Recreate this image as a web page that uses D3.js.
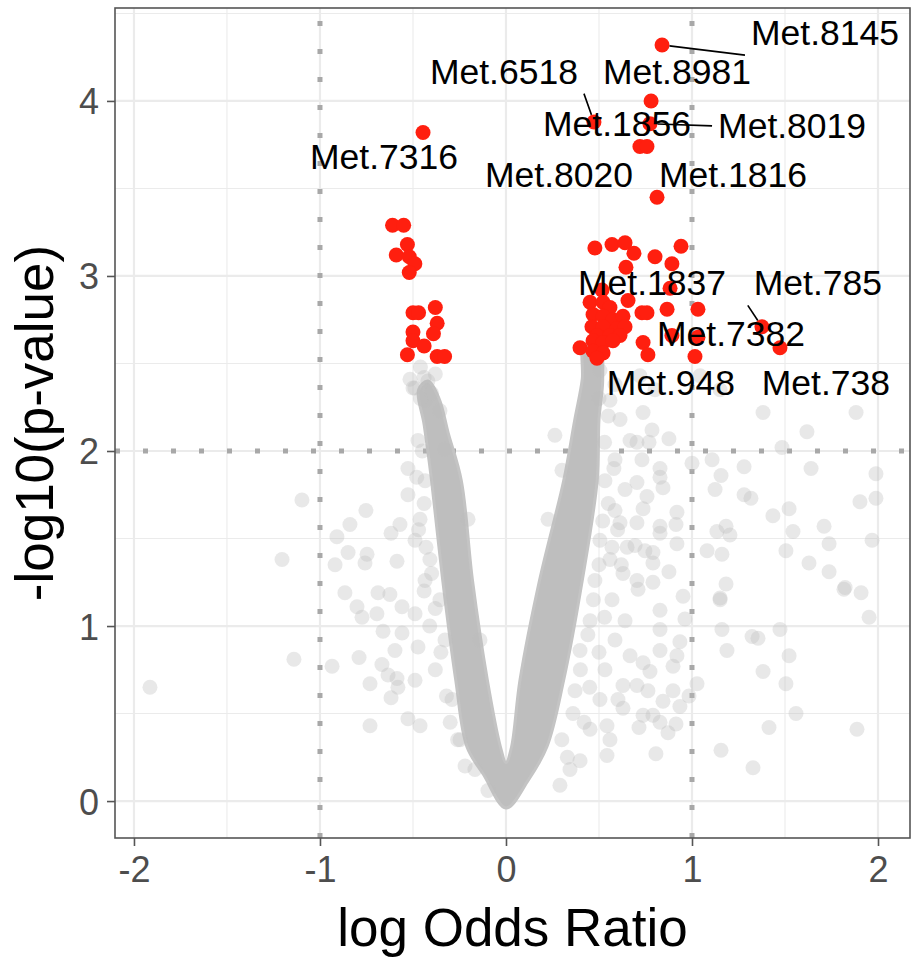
<!DOCTYPE html>
<html><head><meta charset="utf-8">
<script src="https://cdn.jsdelivr.net/npm/d3@7"></script>
<style>body{margin:0;background:#fff}</style>
</head><body>
<svg id="c" width="913" height="960"></svg>
<script>
// ---------- data ----------
const xTicks = [-2, -1, 0, 1, 2];
const yTicks = [0, 1, 2, 3, 4];
const xMinor = [-1.5, -0.5, 0.5, 1.5];
const yMinor = [0.5, 1.5, 2.5, 3.5, 4.5];
const xCutoffs = [-1, 1];
const yCutoffs = [2];

// dense core of the non-significant cloud (outline, in data units)
const coreX = [0, -0.12, -0.21, -0.27, -0.34, -0.40, -0.44, -0.47, -0.42, -0.36, -0.31, -0.24, -0.18, -0.10, -0.03, 0, 0.03, 0.075, 0.18, 0.31, 0.37, 0.41, 0.42, 0.50, 0.52, 0.50, 0.49, 0.41, 0.31, 0.22, 0.12];
const coreY = [-0.04, 0.15, 0.31, 0.69, 1.26, 1.83, 2.15, 2.35, 2.40, 2.30, 2.10, 1.83, 1.26, 0.69, 0.31, 0.22, 0.31, 0.69, 1.26, 1.83, 2.18, 2.41, 2.60, 2.62, 2.41, 2.18, 1.83, 1.26, 0.69, 0.31, 0.12];

// scattered non-significant metabolites
const greyX = [-1.097,-1.204,-0.839,-0.753,-0.909,-0.849,-0.747,-0.758,-0.919,-0.618,-0.570,-0.527,-0.527,-0.586,-0.688,-0.866,-1.140,-0.935,-1.914,-0.790,-0.731,-0.731,-0.801,-0.774,-0.694,-0.624,-0.559,-0.661,-0.597,-0.667,-0.634,-0.586,-0.581,-0.618,-0.527,-0.462,-0.489,-0.473,-0.559,-0.489,
 1.382,1.882,1.618,1.484,1.640,1.989,1.280,1.108,1.156,1.124,1.280,1.317,1.435,1.522,1.903,1.989,1.134,1.183,1.204,1.543,1.710,1.737,1.968,1.505,1.629,1.737,1.823,1.909,1.081,1.161,1.183,1.151,1.000,0.919,0.914,0.919,0.828,0.828,0.876,0.785,0.769,0.737,0.704,0.731,0.828,0.828,0.844,0.704,0.758,0.737,0.613,0.704,0.651,0.694,0.747,0.790,0.790,0.876,0.629,0.704,0.790,0.710,
 1.151,1.161,1.188,1.323,1.355,1.473,1.522,1.382,1.505,1.559,1.414,1.887,1.156,1.328,1.952,0.952,0.828,0.962,0.828,0.935,0.828,0.919,0.898,0.737,0.774,1.027,0.984,0.898,0.844,0.935,0.763,0.704,0.629,0.629,0.737,0.790,0.828,0.914,0.871,0.715,0.543,0.806,0.543,1.817,
 0.570,0.640,0.586,0.667,0.532,0.602,0.505,0.452,0.559,0.398,0.344,0.290,0.559,0.613,0.667,0.586,0.532,0.640,0.586,0.505,0.559,0.478,0.452,0.398,0.371,0.505,0.586,0.720,0.801,1.043,1.151,
 -0.435,-0.355,-0.473,-0.328,-0.435,-0.462,-0.409,-0.355,-0.328,-0.290,-0.247,-0.167,-0.097,-0.516,-0.489,-0.435,-0.204,-0.140,0.263,0.301,0.226,-0.46,-0.42,-0.50,-0.38,
 0.50,0.55,0.53,0.58,0.55,0.60,0.52,0.57,0.50,0.62,0.47,0.53,0.44,0.50,0.40,0.45,0.36,0.42,0.30,0.33,
 -0.45,-0.48,-0.44,-0.47,-0.43,-0.40,-0.44,-0.38,-0.41,-0.35,-0.38,-0.32,-0.30,-0.26,-0.22,-0.46,-0.44,-0.49,-0.40];
const greyY = [1.72,1.38,1.58,1.66,1.51,1.42,1.41,1.36,1.35,1.53,1.58,1.90,1.75,1.37,1.19,1.19,0.81,0.77,0.65,0.82,0.67,0.43,1.11,1.05,1.07,1.18,1.11,0.97,0.86,0.78,0.72,0.70,0.65,0.59,0.47,0.43,0.69,0.88,0.96,1.07,
 2.22,2.22,2.11,2.02,1.90,1.87,1.91,1.95,1.86,1.78,1.75,1.73,1.63,1.67,1.71,1.73,1.54,1.57,1.52,1.54,1.57,1.47,1.49,1.43,1.36,1.31,1.22,1.19,1.43,1.41,1.24,1.16,1.93,1.65,1.58,1.47,1.57,1.53,2.07,2.12,2.05,2.22,2.05,1.95,1.90,1.85,1.79,1.82,1.74,1.67,1.59,1.59,1.45,1.46,1.43,1.42,1.36,1.31,1.30,1.26,1.25,1.21,
 1.15,0.98,0.86,0.94,0.93,0.98,0.83,0.74,0.67,0.50,0.42,0.41,0.29,0.19,1.05,1.17,1.09,1.04,0.98,0.91,0.86,0.83,0.77,0.79,0.74,0.67,0.60,0.63,0.57,0.54,0.63,0.66,0.66,0.53,0.49,0.49,0.45,0.44,0.39,0.42,0.43,0.27,0.26,1.21,
 1.15,1.03,0.92,0.83,0.75,0.58,0.58,0.41,0.35,0.23,0.18,0.09,2.29,2.18,2.06,1.95,1.83,1.78,1.66,1.49,1.38,1.26,1.03,0.86,0.63,2.46,2.38,2.43,2.35,2.43,2.35,
 2.29,2.23,2.06,2.01,1.83,1.61,1.38,1.15,0.92,0.58,0.35,0.18,0.06,2.41,1.49,1.26,1.61,0.92,2.09,1.89,1.61,2.48,2.40,2.36,2.44,
 2.30,2.20,2.05,1.90,1.70,1.55,1.60,1.45,1.35,1.35,1.15,1.05,0.95,0.85,0.75,0.65,0.50,0.45,0.35,0.25,
 2.00,1.85,1.70,1.55,1.45,1.30,1.20,1.10,1.00,0.85,0.75,0.60,0.45,0.35,0.20,2.30,2.42,2.36,2.33];

// significant metabolites
const sigX = [0.839,0.780,0.473,0.774,0.720,0.758,-0.446,0.812,
 0.478,0.570,0.640,0.688,0.645,0.801,0.892,0.941,0.882,0.516,0.656,0.452,0.522,0.559,0.468,0.522,0.575,0.629,0.731,0.758,0.866,1.032,0.462,0.522,0.597,0.640,0.489,0.559,0.613,0.398,0.468,0.522,0.575,0.468,0.522,0.489,0.737,0.763,0.892,1.032,1.016,1.376,1.473,
 -0.61,-0.55,-0.53,-0.59,-0.52,-0.49,-0.52,-0.50,-0.47,-0.38,-0.37,-0.50,-0.39,-0.50,-0.44,-0.53,-0.37,-0.33];
const sigY = [4.32,4.00,3.88,3.87,3.74,3.74,3.82,3.45,
 3.16,3.18,3.19,3.13,3.05,3.11,3.07,3.17,2.93,2.92,2.86,2.85,2.85,2.82,2.78,2.77,2.75,2.77,2.79,2.79,2.81,2.81,2.71,2.71,2.70,2.71,2.66,2.66,2.66,2.59,2.63,2.62,2.63,2.57,2.56,2.53,2.62,2.55,2.66,2.65,2.54,2.71,2.59,
 3.29,3.29,3.18,3.12,3.11,3.07,3.02,2.79,2.79,2.82,2.73,2.68,2.67,2.63,2.60,2.55,2.54,2.54];

// labelled metabolites: point and repelled label position (data units)
const labelNames = ["Met.8145","Met.6518","Met.8981","Met.1856","Met.8019","Met.7316","Met.8020","Met.1816","Met.1837","Met.785","Met.7382","Met.948","Met.738"];
const labelPointX = [0.839,0.473,0.780,0.758,0.774,-0.446,0.720,0.812,0.656,1.376,1.032,0.763,1.473];
const labelPointY = [4.32,3.88,4.00,3.74,3.87,3.82,3.74,3.45,2.86,2.71,2.65,2.55,2.59];
const labelTextX = [1.715,-0.011,0.919,0.597,1.538,-0.656,0.285,1.220,0.785,1.677,1.210,0.887,1.720];
const labelTextY = [4.39,4.17,4.17,3.87,3.86,3.68,3.58,3.58,2.96,2.96,2.67,2.39,2.39];

// ---------- drawing ----------
const P = {left: 115, right: 910, top: 8, bottom: 838};
const x = d3.scaleLinear().domain([-2.102, 2.172]).range([P.left, P.right]);
const y = d3.scaleLinear().domain([-0.211, 4.531]).range([P.bottom, P.top]);
const FONT = "'Liberation Sans', Arial, Helvetica, sans-serif";
const svg = d3.select("#c");

svg.append("defs").append("clipPath").attr("id","pclip")
  .append("rect").attr("x",P.left).attr("y",P.top).attr("width",P.right-P.left).attr("height",P.bottom-P.top);

const panel = svg.append("g").attr("clip-path","url(#pclip)");
panel.append("rect").attr("x",P.left).attr("y",P.top).attr("width",P.right-P.left).attr("height",P.bottom-P.top).attr("fill","#fff");

// grid
const grid = panel.append("g").attr("stroke","#ebebeb").attr("fill","none");
grid.selectAll(".xm").data(xMinor).join("line").attr("x1",d=>x(d)).attr("x2",d=>x(d)).attr("y1",P.top).attr("y2",P.bottom).attr("stroke-width",1.1);
grid.selectAll(".ym").data(yMinor).join("line").attr("y1",d=>y(d)).attr("y2",d=>y(d)).attr("x1",P.left).attr("x2",P.right).attr("stroke-width",1.1);
grid.selectAll(".xM").data(xTicks).join("line").attr("x1",d=>x(d)).attr("x2",d=>x(d)).attr("y1",P.top).attr("y2",P.bottom).attr("stroke-width",2.2);
grid.selectAll(".yM").data(yTicks).join("line").attr("y1",d=>y(d)).attr("y2",d=>y(d)).attr("x1",P.left).attr("x2",P.right).attr("stroke-width",2.2);

// cutoff lines
const cut = panel.append("g").attr("stroke","#a8a8a8").attr("stroke-width",5).attr("stroke-dasharray","5,23").attr("fill","none");
cut.selectAll(".vc").data(xCutoffs).join("line").attr("x1",d=>x(d)).attr("x2",d=>x(d)).attr("y1",P.bottom).attr("y2",P.top);
cut.selectAll(".hc").data(yCutoffs).join("line").attr("y1",d=>y(d)).attr("y2",d=>y(d)).attr("x1",P.left).attr("x2",P.right);

// dense core
const core = coreX.map((v,i)=>[x(v), y(coreY[i])]);
panel.append("path").attr("d", d3.line().curve(d3.curveCatmullRomClosed.alpha(0.5))(core))
  .attr("fill","#bebebe").attr("stroke","#c4c4c4").attr("stroke-width",3).attr("stroke-linejoin","round");

// grey points
const R = 7.5;
panel.append("g").selectAll("circle").data(greyX.map((v,i)=>[v,greyY[i]])).join("circle")
  .attr("cx",d=>x(d[0])).attr("cy",d=>y(d[1])).attr("r",R)
  .attr("fill","#bebebe").attr("fill-opacity",0.35);

// significant points
panel.append("g").selectAll("circle").data(sigX.map((v,i)=>[v,sigY[i]])).join("circle")
  .attr("cx",d=>x(d[0])).attr("cy",d=>y(d[1])).attr("r",R)
  .attr("fill","#ff1f0f");

// labels + segments
const segG = panel.append("g");
const labG = panel.append("g");
labelNames.forEach((name,i)=>{
  const px = x(labelPointX[i]), py = y(labelPointY[i]);
  const t = labG.append("text").attr("x",x(labelTextX[i])).attr("y",y(labelTextY[i]))
    .attr("dy","0.35em").attr("text-anchor","middle")
    .attr("font-family",FONT).attr("font-size",35.5).attr("fill","#000").text(name);
  const b = t.node().getBBox();
  const pad = 6;
  const x0=b.x-pad, x1=b.x+b.width+pad, y0=b.y+4-pad, y1=b.y+b.height-4+pad;
  const cx=(x0+x1)/2, cy=(y0+y1)/2;
  const cands=[[x0,y0],[cx,y0],[x1,y0],[x0,cy],[x1,cy],[x0,y1],[cx,y1],[x1,y1]];
  const dx = Math.max(x0-px,0,px-x1), dy = Math.max(y0-py,0,py-y1);
  if (Math.hypot(dx,dy) > 20) {
    let best=cands[0], bd=1e9;
    cands.forEach(c=>{const d=Math.hypot(c[0]-px,c[1]-py); if(d<bd){bd=d;best=c;}});
    const L = Math.hypot(best[0]-px,best[1]-py);
    const sx = px + (best[0]-px)/L*R, sy = py + (best[1]-py)/L*R;
    segG.append("line").attr("x1",sx).attr("y1",sy).attr("x2",best[0]).attr("y2",best[1])
      .attr("stroke","#000").attr("stroke-width",1.6);
  }
});

// border
svg.append("rect").attr("x",P.left).attr("y",P.top).attr("width",P.right-P.left).attr("height",P.bottom-P.top)
  .attr("fill","none").attr("stroke","#555").attr("stroke-width",1.6);

// axes
const xAxis = svg.append("g").attr("transform",`translate(0,${P.bottom})`)
  .call(d3.axisBottom(x).tickValues(xTicks).tickSize(8).tickPadding(10).tickFormat(d3.format("d")));
const yAxis = svg.append("g").attr("transform",`translate(${P.left},0)`)
  .call(d3.axisLeft(y).tickValues(yTicks).tickSize(8).tickPadding(8).tickFormat(d3.format("d")));
[xAxis,yAxis].forEach(a=>{
  a.select(".domain").remove();
  a.selectAll(".tick line").attr("stroke","#555").attr("stroke-width",1.6);
  a.selectAll(".tick text").attr("font-family",FONT).attr("font-size",36).attr("fill","#4d4d4d");
});
xAxis.selectAll(".tick text").text(d=>d<0?"-"+Math.abs(d):d);
yAxis.selectAll(".tick text").attr("dy","0.36em");

svg.append("text").attr("x",(P.left+P.right)/2).attr("y",946).attr("text-anchor","middle")
  .attr("font-family",FONT).attr("font-size",53).attr("fill","#000").text("log Odds Ratio");
svg.append("text").attr("transform",`translate(53,${(P.top+P.bottom)/2}) rotate(-90)`).attr("text-anchor","middle")
  .attr("font-family",FONT).attr("font-size",53).attr("fill","#000").text("-log10(p-value)");
</script>
</body></html>
